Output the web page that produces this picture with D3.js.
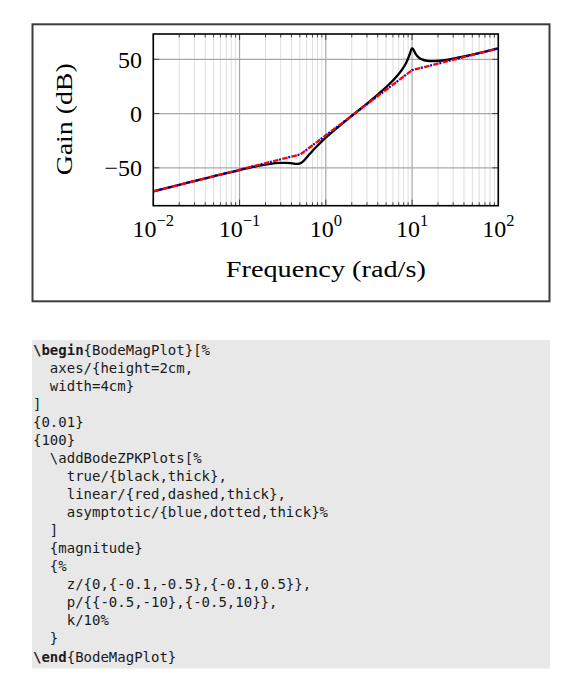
<!DOCTYPE html>
<html>
<head>
<meta charset="utf-8">
<script src="https://cdn.jsdelivr.net/npm/d3@7"></script>
<style>
  html, body { margin: 0; padding: 0; background: #fff; }
  svg { display: block; }
  .code { font-family: "DejaVu Sans Mono", monospace; font-size: 14px; fill: #1a1a1a; white-space: pre; }
  .serif { font-family: "Liberation Serif", "DejaVu Serif", serif; fill: #000; }
</style>
</head>
<body>
<script>
// ---- data ----
const freqs = [0.01, 0.02, 0.05, 0.1, 0.15, 0.2, 0.25, 0.3, 0.35, 0.4, 0.42, 0.45, 0.46, 0.47, 0.48, 0.49, 0.5, 0.52, 0.55, 0.6, 0.65, 0.7, 0.75, 0.8, 0.9, 1, 1.5, 2, 3, 4, 5, 6, 7, 8, 8.5, 9, 9.5, 9.8, 9.9, 10, 10.05, 10.1, 10.2, 10.3, 10.5, 11, 12, 13, 15, 17, 20, 25, 30, 40, 50, 70, 100];
const gainTrue = [-71.72, -65.71, -57.82, -52.03, -48.92, -47.01, -45.88, -45.36, -45.36, -45.82, -46.07, -46.37, -46.41, -46.41, -46.34, -46.20, -45.98, -45.30, -43.76, -40.56, -37.36, -34.48, -31.90, -29.61, -25.62, -22.24, -10.23, -2.14, 9.18, 17.47, 24.31, 30.43, 36.39, 42.76, 46.41, 50.68, 55.85, 58.90, 59.59, 59.98, 60.04, 60.02, 59.76, 59.28, 58.03, 55.05, 51.60, 49.93, 48.57, 48.27, 48.50, 49.46, 50.56, 52.60, 54.33, 57.08, 60.09];
const breakFreqs = [0.01, 0.51, 10.01, 100];
const gainLinear = [-71.72, -37.57, 40.0, 60.0];
const gainAsymptotic = [-71.72, -37.57, 40.0, 60.0];
const xTickExps = [-2, -1, 0, 1, 2];
const yTicks = [-50, 0, 50];
const xLabel = "Frequency (rad/s)";
const yLabel = "Gain (dB)";
const codeLines = [
  ["\\begin", "{BodeMagPlot}[%"],
  ["", "  axes/{height=2cm,"],
  ["", "  width=4cm}"],
  ["", "]"],
  ["", "{0.01}"],
  ["", "{100}"],
  ["", "  \\addBodeZPKPlots[%"],
  ["", "    true/{black,thick},"],
  ["", "    linear/{red,dashed,thick},"],
  ["", "    asymptotic/{blue,dotted,thick}%"],
  ["", "  ]"],
  ["", "  {magnitude}"],
  ["", "  {%"],
  ["", "    z/{0,{-0.1,-0.5},{-0.1,0.5}},"],
  ["", "    p/{{-0.5,-10},{-0.5,10}},"],
  ["", "    k/10%"],
  ["", "  }"],
  ["\\end", "{BodeMagPlot}"]
];

// ---- drawing ----
const W = 574, H = 680;
const svg = d3.select("body").append("svg").attr("width", W).attr("height", H);

const plot = { left: 153.3, right: 498.3, top: 34, bottom: 205.7 };
const x = d3.scaleLog().domain([0.01, 100]).range([plot.left, plot.right]);
const y = d3.scaleLinear().domain([-84.9, 73.3]).range([plot.bottom, plot.top]);

// outer frame
svg.append("rect").attr("x", 32.5).attr("y", 24.3).attr("width", 517).attr("height", 277)
  .attr("fill", "none").attr("stroke", "#3c3c3c").attr("stroke-width", 2);

// grid
const minorX = [];
for (let e = -2; e < 2; e++) for (let m = 2; m <= 9; m++) minorX.push(m * Math.pow(10, e));
const majorX = xTickExps.map(e => Math.pow(10, e));

const g = svg.append("g");
g.selectAll(".mgx").data(minorX).join("line")
  .attr("x1", d => x(d)).attr("x2", d => x(d)).attr("y1", plot.top).attr("y2", plot.bottom)
  .attr("stroke", "#dedede").attr("stroke-width", 1);
g.selectAll(".Mgx").data(majorX).join("line")
  .attr("x1", d => x(d)).attr("x2", d => x(d)).attr("y1", plot.top).attr("y2", plot.bottom)
  .attr("stroke", "#a8a8a8").attr("stroke-width", 1.2);
g.selectAll(".Mgy").data(yTicks).join("line")
  .attr("x1", plot.left).attr("x2", plot.right).attr("y1", d => y(d)).attr("y2", d => y(d))
  .attr("stroke", "#a8a8a8").attr("stroke-width", 1.2);

// clip
svg.append("clipPath").attr("id", "clip").append("rect")
  .attr("x", plot.left).attr("y", plot.top).attr("width", plot.right - plot.left).attr("height", plot.bottom - plot.top);

const curves = svg.append("g").attr("clip-path", "url(#clip)");
const lineSmooth = d3.line().x(d => x(d[0])).y(d => y(d[1])).curve(d3.curveMonotoneX);
const lineStraight = d3.line().x(d => x(d[0])).y(d => y(d[1]));

curves.append("path").datum(freqs.map((f, i) => [f, gainTrue[i]]))
  .attr("d", lineSmooth).attr("fill", "none").attr("stroke", "#000").attr("stroke-width", 2.3)
  .attr("stroke-linejoin", "round");
curves.append("path").datum(breakFreqs.map((f, i) => [f, gainLinear[i]]))
  .attr("d", lineStraight).attr("fill", "none").attr("stroke", "#ff0000").attr("stroke-width", 2.3)
  .attr("stroke-dasharray", "5.5 4");
curves.append("path").datum(breakFreqs.map((f, i) => [f, gainAsymptotic[i]]))
  .attr("d", lineStraight).attr("fill", "none").attr("stroke", "#0000ff").attr("stroke-width", 2.3)
  .attr("stroke-dasharray", "2 7.5").attr("stroke-dashoffset", -6.2);

// tick marks
const tk = svg.append("g").attr("stroke", "#333").attr("stroke-width", 0.9);
minorX.forEach(d => {
  tk.append("line").attr("x1", x(d)).attr("x2", x(d)).attr("y1", plot.bottom).attr("y2", plot.bottom - 3.5);
  tk.append("line").attr("x1", x(d)).attr("x2", x(d)).attr("y1", plot.top).attr("y2", plot.top + 3.5);
});
majorX.forEach(d => {
  tk.append("line").attr("x1", x(d)).attr("x2", x(d)).attr("y1", plot.bottom).attr("y2", plot.bottom - 6);
  tk.append("line").attr("x1", x(d)).attr("x2", x(d)).attr("y1", plot.top).attr("y2", plot.top + 6);
});
yTicks.forEach(d => {
  tk.append("line").attr("x1", plot.left).attr("x2", plot.left + 6).attr("y1", y(d)).attr("y2", y(d));
  tk.append("line").attr("x1", plot.right).attr("x2", plot.right - 6).attr("y1", y(d)).attr("y2", y(d));
});

// plot frame
svg.append("rect").attr("x", plot.left).attr("y", plot.top)
  .attr("width", plot.right - plot.left).attr("height", plot.bottom - plot.top)
  .attr("fill", "none").attr("stroke", "#000").attr("stroke-width", 1.6);

// y tick labels
svg.selectAll(".ytl").data(yTicks).join("text").attr("class", "serif")
  .attr("x", 142).attr("y", d => y(d) + 8.5).attr("text-anchor", "end").attr("font-size", 24)
  .text(d => d < 0 ? "\u2212" + Math.abs(d) : String(d));

// x tick labels
xTickExps.forEach(e => {
  const t = svg.append("text").attr("class", "serif").attr("x", x(Math.pow(10, e)))
    .attr("y", 237).attr("text-anchor", "middle").attr("font-size", 24);
  t.append("tspan").text("10");
  t.append("tspan").attr("font-size", 16.5).attr("dy", -11)
    .text(e < 0 ? "\u2212" + Math.abs(e) : String(e));
});

// axis labels
svg.append("text").attr("class", "serif").attr("x", (plot.left + plot.right) / 2).attr("y", 277)
  .attr("text-anchor", "middle").attr("font-size", 24)
  .attr("textLength", 200).attr("lengthAdjust", "spacingAndGlyphs").text(xLabel);
svg.append("text").attr("class", "serif")
  .attr("transform", `translate(72,${(plot.top + plot.bottom) / 2 - 0.5}) rotate(-90)`)
  .attr("text-anchor", "middle").attr("font-size", 24)
  .attr("textLength", 112).attr("lengthAdjust", "spacingAndGlyphs").text(yLabel);

// code block
svg.append("rect").attr("x", 32).attr("y", 340).attr("width", 518).attr("height", 328.5).attr("fill", "#e8e8e8");
const code = svg.append("g");
codeLines.forEach((ln, i) => {
  const t = code.append("text").attr("class", "code").attr("x", 33).attr("y", 354.5 + i * 18.06)
    .attr("xml:space", "preserve");
  if (ln[0]) t.append("tspan").attr("font-weight", "bold").text(ln[0]);
  t.append("tspan").text(ln[1]);
});
</script>
</body>
</html>
